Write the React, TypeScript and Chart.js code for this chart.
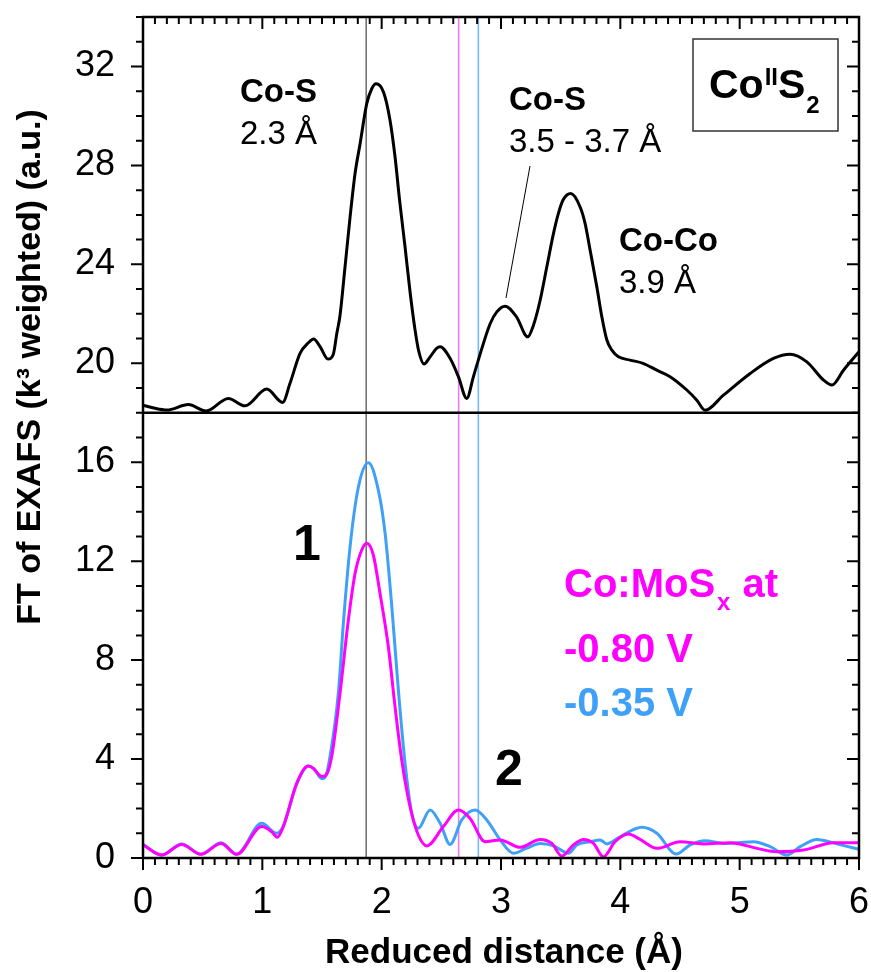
import React, { useEffect, useRef } from "react";
import { Chart, registerables } from "chart.js";

Chart.register(...registerables);

// ---------- data ----------
// CoS2 reference (plotted with an offset of 18)
const COS2_OFFSET = 18;
const cos2R = [
  0.0, 0.1, 0.2, 0.38, 0.53, 0.715, 0.855, 1.037, 1.17, 1.232,
  1.316, 1.386, 1.43, 1.484, 1.55, 1.595, 1.624, 1.65, 1.693, 1.735,
  1.777, 1.82, 1.875, 1.917, 1.953, 2.015, 2.07, 2.112, 2.15, 2.196,
  2.24, 2.28, 2.31, 2.355, 2.406, 2.46, 2.49, 2.573, 2.643, 2.713,
  2.769, 2.81, 2.909, 2.965, 3.034, 3.13, 3.224, 3.272, 3.328, 3.384,
  3.44, 3.481, 3.52, 3.585, 3.663, 3.705, 3.747, 3.803, 3.845, 3.887,
  3.929, 3.984, 4.082, 4.19, 4.306, 4.417, 4.557, 4.641, 4.71, 4.864,
  5.088, 5.283, 5.423, 5.563, 5.703, 5.773, 5.87, 6.0,
];
const cos2FT = [
  0.31, 0.18, 0.11, 0.33, 0.07, 0.58, 0.28, 0.96, 0.42, 1.19,
  2.4, 2.83, 2.98, 2.67, 2.17, 2.37, 3.2, 3.9, 5.9, 7.9,
  9.67, 10.9, 12.5, 13.1, 13.3, 12.97, 11.83, 10.35, 8.6, 6.7,
  4.8, 3.34, 2.5, 1.97, 2.26, 2.6, 2.67, 2.2, 1.46, 0.58,
  1.46, 2.13, 3.6, 4.08, 4.31, 3.88, 3.07, 3.54, 4.55, 5.9,
  7.25, 8.06, 8.6, 8.86, 8.32, 7.65, 6.57, 5.09, 3.88, 2.94,
  2.53, 2.26, 2.13, 2.0, 1.72, 1.46, 0.92, 0.51, 0.1, 0.71,
  1.59, 2.2, 2.37, 2.06, 1.32, 1.12, 1.72, 2.47,
];

// Co:MoSx at -0.35 V (blue)
const v035R = [
  0.0, 0.157, 0.324, 0.486, 0.654, 0.785, 0.995, 1.12, 1.176, 1.288,
  1.386, 1.43, 1.5, 1.53, 1.567, 1.637, 1.679, 1.735, 1.805, 1.889,
  1.972, 2.029, 2.085, 2.14, 2.196, 2.252, 2.307, 2.406, 2.49, 2.573,
  2.671, 2.783, 2.881, 2.993, 3.104, 3.216, 3.328, 3.44, 3.566, 3.635,
  3.747, 3.83, 3.887, 3.998, 4.18, 4.306, 4.468, 4.585, 4.711, 4.864,
  4.99, 5.116, 5.256, 5.395, 5.507, 5.647, 5.815, 6.0,
];
const v035FT = [
  0.55, 0.12, 0.57, 0.15, 0.62, 0.15, 1.4, 1.0, 1.3, 3.0,
  3.72, 3.62, 3.2, 3.3, 4.09, 6.66, 9.49, 12.58, 15.0, 15.98,
  14.87, 13.12, 10.16, 6.79, 3.83, 1.81, 1.2, 1.94, 1.4, 0.55,
  1.54, 1.94, 1.54, 0.73, 0.19, 0.4, 0.59, 0.49, 0.19, 0.53,
  0.66, 0.73, 0.57, 0.86, 1.24, 1.0, 0.16, 0.53, 0.7, 0.59,
  0.62, 0.66, 0.46, 0.12, 0.46, 0.75, 0.57, 0.35,
];

// Co:MoSx at -0.80 V (magenta)
const v080R = [
  0.0, 0.157, 0.324, 0.486, 0.654, 0.785, 0.995, 1.078, 1.126, 1.176,
  1.288, 1.386, 1.428, 1.498, 1.534, 1.581, 1.651, 1.721, 1.777, 1.833,
  1.875, 1.93, 1.986, 2.056, 2.112, 2.168, 2.238, 2.307, 2.378, 2.517,
  2.643, 2.741, 2.866, 2.993, 3.16, 3.328, 3.426, 3.51, 3.607, 3.691,
  3.775, 3.858, 3.956, 4.068, 4.166, 4.306, 4.501, 4.697, 4.92, 5.144,
  5.312, 5.535, 5.786, 6.0,
];
const v080FT = [
  0.53, 0.12, 0.55, 0.15, 0.59, 0.15, 1.27, 1.06, 0.84, 1.27,
  3.02, 3.72, 3.62, 3.29, 3.35, 4.09, 6.66, 9.62, 11.5, 12.45,
  12.72, 12.25, 10.7, 8.54, 6.12, 3.96, 2.07, 0.93, 0.49, 1.27,
  1.94, 1.6, 0.66, 0.73, 0.43, 0.75, 0.59, 0.08, 0.53, 0.75,
  0.59, 0.05, 0.66, 0.97, 0.75, 0.39, 0.66, 0.57, 0.62, 0.39,
  0.25, 0.32, 0.62, 0.62,
];

// reference lines (Å)
const refLinesR = [1.87, 2.645, 2.81];

// axis ranges / ticks
const X_MIN = 0, X_MAX = 6, X_MAJOR = 1, X_MINOR = 0.1;
const Y_MIN = 0, Y_MAX = 34, Y_MAJOR = 4, Y_MINOR = 1;

// ---------- styles ----------
const FONT = "'Liberation Sans', Arial, Helvetica, sans-serif";
const MAGENTA = "#ff00ff";
const BLUE = "#3fa0f7";
const refColors = ["#444444", "#ee7aee", "#74b9f7"];
const refWidths = [1.2, 1.6, 1.6];

const toPts = (xs: number[], ys: number[], off = 0) =>
  xs.map((x, i) => ({ x, y: ys[i] + off }));

function txt(
  ctx: CanvasRenderingContext2D,
  s: string,
  x: number,
  y: number,
  size: number,
  bold: boolean,
  color = "#000",
  align: CanvasTextAlign = "left"
) {
  ctx.font = `${bold ? "bold " : ""}${size}px ${FONT}`;
  ctx.fillStyle = color;
  ctx.textAlign = align;
  ctx.textBaseline = "alphabetic";
  ctx.fillText(s, x, y);
  return ctx.measureText(s).width;
}

const decor = {
  id: "decor",
  beforeDatasetsDraw(chart: any) {
    const { ctx, chartArea: a, scales } = chart;
    const xs = scales.x;
    ctx.save();
    refLinesR.forEach((r, i) => {
      const px = xs.getPixelForValue(r);
      ctx.strokeStyle = refColors[i];
      ctx.lineWidth = refWidths[i];
      ctx.beginPath();
      ctx.moveTo(px, a.top);
      ctx.lineTo(px, a.bottom);
      ctx.stroke();
    });
    ctx.restore();
  },
  afterDatasetsDraw(chart: any) {
    const { ctx, chartArea: a, scales } = chart;
    const xs = scales.x;
    const ys = scales.y;
    ctx.save();
    ctx.strokeStyle = "#000";
    ctx.lineCap = "butt";

    // offset baseline
    const yo = ys.getPixelForValue(COS2_OFFSET);
    ctx.lineWidth = 2.5;
    ctx.beginPath();
    ctx.moveTo(a.left, yo);
    ctx.lineTo(a.right, yo);
    ctx.stroke();

    // frame
    ctx.lineWidth = 2.5;
    ctx.strokeRect(a.left, a.top, a.right - a.left, a.bottom - a.top);

    // ticks
    ctx.lineWidth = 2;
    const nY = Math.round((Y_MAX - Y_MIN) / Y_MINOR);
    for (let i = 0; i <= nY; i++) {
      const v = Y_MIN + i * Y_MINOR;
      const major = Math.abs(v / Y_MAJOR - Math.round(v / Y_MAJOR)) < 1e-6;
      const len = major ? 12 : 7;
      const py = ys.getPixelForValue(v);
      ctx.beginPath();
      ctx.moveTo(a.left, py);
      ctx.lineTo(a.left - len, py);
      ctx.moveTo(a.right, py);
      ctx.lineTo(a.right - len, py);
      ctx.stroke();
    }
    const nX = Math.round((X_MAX - X_MIN) / X_MINOR);
    for (let i = 0; i <= nX; i++) {
      const v = X_MIN + i * X_MINOR;
      const major = Math.abs(v / X_MAJOR - Math.round(v / X_MAJOR)) < 1e-6;
      const len = major ? 12 : 7;
      const px = xs.getPixelForValue(v);
      ctx.beginPath();
      ctx.moveTo(px, a.bottom);
      ctx.lineTo(px, a.bottom + len);
      ctx.moveTo(px, a.top);
      ctx.lineTo(px, a.top + len);
      ctx.stroke();
    }

    // annotations (CoS2 panel)
    txt(ctx, "Co-S", 240, 102, 33, true);
    txt(ctx, "2.3 Å", 240, 144, 33, false);
    txt(ctx, "Co-S", 509, 110, 33, true);
    txt(ctx, "3.5 - 3.7 Å", 509, 152, 33, false);
    txt(ctx, "Co-Co", 619, 251, 33, true);
    txt(ctx, "3.9 Å", 619, 293, 33, false);

    ctx.lineWidth = 1;
    ctx.beginPath();
    ctx.moveTo(530, 166);
    ctx.lineTo(506, 298);
    ctx.stroke();

    // CoS2 box
    ctx.lineWidth = 1.5;
    ctx.strokeStyle = "#333";
    ctx.strokeRect(693, 39, 145, 92);
    let bx = 709;
    bx += txt(ctx, "Co", bx, 98, 41, true) + 1;
    bx += txt(ctx, "II", bx, 85, 24, true);
    bx += txt(ctx, "S", bx, 98, 41, true) + 1;
    txt(ctx, "2", bx, 113, 24, true);

    // peak numbers
    txt(ctx, "1", 293, 560, 50, true);
    txt(ctx, "2", 495, 785, 50, true);

    // legend text
    let lx = 564;
    lx += txt(ctx, "Co:MoS", lx, 597, 40, true, MAGENTA) + 2;
    lx += txt(ctx, "x", lx, 610, 24, true, MAGENTA) + 12;
    txt(ctx, "at", lx, 597, 40, true, MAGENTA);
    txt(ctx, "-0.80 V", 564, 662, 40, true, MAGENTA);
    txt(ctx, "-0.35 V", 564, 716, 40, true, BLUE);

    // axis titles
    txt(ctx, "Reduced distance (Å)", 504, 963, 35, true, "#000", "center");
    ctx.save();
    ctx.translate(40, 367);
    ctx.rotate(-Math.PI / 2);
    txt(ctx, "FT of EXAFS (k³ weighted) (a.u.)", 0, 0, 34, true, "#000", "center");
    ctx.restore();

    ctx.restore();
  },
};

export default function App() {
  const ref = useRef<HTMLCanvasElement>(null);
  useEffect(() => {
    const prev = document.body.style.margin;
    document.body.style.margin = "0";
    const canvas = ref.current!;
    const common = {
      borderWidth: 3,
      pointRadius: 0,
      cubicInterpolationMode: "monotone",
      fill: false,
    };
    const chart = new Chart(canvas, {
      type: "line",
      data: {
        datasets: [
          {
            label: "Co:MoSx at -0.80 V",
            data: toPts(v080R, v080FT),
            borderColor: MAGENTA,
            order: 0,
            ...common,
          },
          {
            label: "Co:MoSx at -0.35 V",
            data: toPts(v035R, v035FT),
            borderColor: BLUE,
            order: 1,
            ...common,
          },
          {
            label: "CoS2",
            data: toPts(cos2R, cos2FT, COS2_OFFSET),
            borderColor: "#000",
            order: 2,
            ...common,
          },
        ],
      },
      options: {
        animation: false,
        responsive: false,
        devicePixelRatio: 1,
        layout: { padding: { left: 0, right: 12, top: 17, bottom: 0 } },
        plugins: { legend: { display: false }, tooltip: { enabled: false } },
        scales: {
          x: {
            type: "linear",
            min: X_MIN,
            max: X_MAX,
            grid: { display: false },
            border: { display: false },
            ticks: {
              stepSize: X_MAJOR,
              includeBounds: false,
              autoSkip: false,
              maxRotation: 0,
              padding: 15,
              color: "#000",
              font: { family: FONT, size: 36 },
            },
            afterFit: (s: any) => {
              s.height = 114;
              s.paddingLeft = 0;
              s.paddingRight = 0;
            },
          },
          y: {
            type: "linear",
            min: Y_MIN,
            max: Y_MAX,
            grid: { display: false },
            border: { display: false },
            ticks: {
              stepSize: Y_MAJOR,
              includeBounds: false,
              autoSkip: false,
              padding: 20,
              color: "#000",
              font: { family: FONT, size: 36 },
            },
            afterFit: (s: any) => {
              s.width = 143;
              s.paddingTop = 0;
              s.paddingBottom = 0;
            },
          },
        },
      },
      plugins: [decor],
    } as any);
    return () => {
      chart.destroy();
      document.body.style.margin = prev;
    };
  }, []);
  return (
    <canvas
      ref={ref}
      width={871}
      height={972}
      style={{ display: "block" }}
    />
  );
}
